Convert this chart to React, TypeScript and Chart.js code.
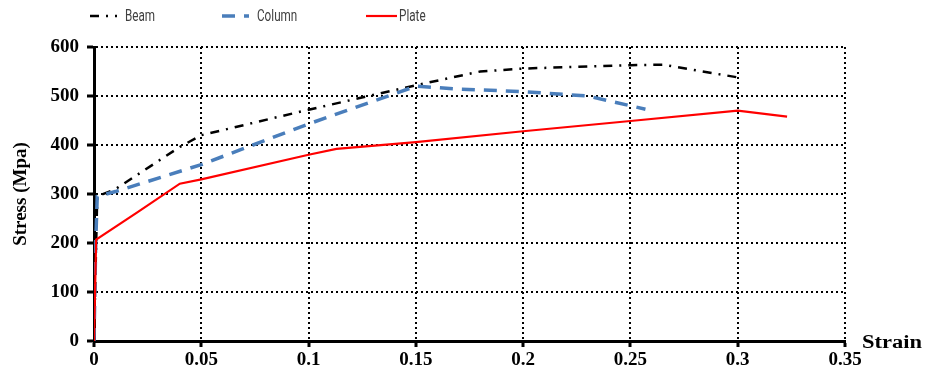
import React, { useEffect, useRef } from "react";
import { Chart, registerables } from "chart.js";

Chart.register(...registerables);

// ---- Data ----
const beamStrain = [0, 0.0015, 0.01, 0.04, 0.05, 0.1, 0.15, 0.18, 0.2, 0.25, 0.265, 0.3];
const beamStress = [0, 295, 310, 396, 420, 472, 522, 550, 556, 563, 564, 538];

const columnStrain = [0, 0.0008, 0.0015, 0.01, 0.05, 0.1, 0.15, 0.17, 0.2, 0.23, 0.257];
const columnStress = [0, 200, 295, 305, 360, 443, 520, 514, 509, 500, 473];

const plateStrain = [0, 0.001, 0.02, 0.04, 0.05, 0.1, 0.113, 0.15, 0.2, 0.25, 0.3, 0.323];
const plateStress = [0, 207, 262, 321, 330, 380, 392, 406, 428, 449, 470, 458];

const xTicks = [0, 0.05, 0.1, 0.15, 0.2, 0.25, 0.3, 0.35];
const yTicks = [0, 100, 200, 300, 400, 500, 600];

const seriesNames = ["Beam", "Column", "Plate"];
const xTitle = "Strain";
const yTitle = "Stress (Mpa)";

const toPoints = (xs: number[], ys: number[]) => xs.map((x, i) => ({ x, y: ys[i] }));

const SERIF = "'Liberation Serif', 'Times New Roman', serif";
const LEGEND_FONT = "'Roboto', 'Liberation Sans', sans-serif";

// Legend layout (sample line start/end and text x)
const legendLayout = [
  { x1: 90, x2: 117, tx: 125 },
  { x1: 222, x2: 249, tx: 257 },
  { x1: 366, x2: 397, tx: 399 },
];

const customLegend = {
  id: "customLegend",
  afterDraw(chart: any) {
    const ctx = chart.ctx;
    const y = 16;
    chart.data.datasets.forEach((ds: any, i: number) => {
      const l = legendLayout[i];
      ctx.save();
      ctx.strokeStyle = ds.borderColor;
      ctx.lineWidth = ds.borderWidth;
      ctx.setLineDash(ds.borderDash || []);
      ctx.beginPath();
      ctx.moveTo(l.x1, y);
      ctx.lineTo(l.x2, y);
      ctx.stroke();
      ctx.setLineDash([]);
      ctx.fillStyle = "#404040";
      ctx.font = `15px ${LEGEND_FONT}`;
      ctx.textBaseline = "middle";
      ctx.textAlign = "left";
      ctx.translate(l.tx, y + 1);
      ctx.scale(0.78, 1.05);
      ctx.fillText(ds.label, 0, 0);
      ctx.restore();
    });
    // x axis title at right end
    const xs = chart.scales.x;
    ctx.save();
    ctx.fillStyle = "#000";
    ctx.font = `bold 18px ${SERIF}`;
    ctx.textBaseline = "middle";
    ctx.textAlign = "left";
    ctx.translate(xs.right + 17, xs.top + 2);
    ctx.scale(1.25, 1);
    ctx.fillText(xTitle, 0, 0);
    ctx.restore();
  },
};

export default function App() {
  const ref = useRef<HTMLCanvasElement | null>(null);

  useEffect(() => {
    document.body.style.margin = "0";
    if (!ref.current) return;
    const chart = new Chart(ref.current, {
      type: "scatter",
      data: {
        datasets: [
          {
            label: seriesNames[0],
            data: toPoints(beamStrain, beamStress),
            showLine: true,
            borderColor: "#000000",
            backgroundColor: "#000000",
            borderWidth: 2.5,
            borderDash: [9, 7, 2, 7],
            pointRadius: 0,
            order: 2,
          },
          {
            label: seriesNames[1],
            data: toPoints(columnStrain, columnStress),
            showLine: true,
            borderColor: "#4A7EBB",
            backgroundColor: "#4A7EBB",
            borderWidth: 3.5,
            borderDash: [13, 9],
            pointRadius: 0,
            order: 1,
          },
          {
            label: seriesNames[2],
            data: toPoints(plateStrain, plateStress),
            showLine: true,
            borderColor: "#FF0000",
            backgroundColor: "#FF0000",
            borderWidth: 2.2,
            pointRadius: 0,
            order: 0,
          },
        ],
      },
      options: {
        responsive: false,
        animation: false,
        layout: { padding: { top: 47, right: 82, left: 0, bottom: 0 } },
        plugins: {
          legend: { display: false },
          tooltip: { enabled: false },
        },
        scales: {
          x: {
            type: "linear",
            min: 0,
            max: 0.35,
            afterBuildTicks: (s: any) => {
              s.ticks = xTicks.map((v) => ({ value: v }));
            },
            afterFit: (s: any) => {
              s.height = 32;
            },
            ticks: {
              color: "#000",
              font: { family: SERIF, size: 19, weight: "bold" },
              padding: 2,
              maxRotation: 0,
              autoSkip: false,
              callback: (v: any) => String(Number(Number(v).toFixed(2))),
            },
            grid: {
              color: "#000",
              lineWidth: 2,
              drawTicks: true,
              tickLength: 6,
              tickWidth: 3,
              tickColor: "#000",
              tickBorderDash: [],
            },
            border: { display: true, color: "#000", width: 3, dash: [2, 3] },
          },
          y: {
            type: "linear",
            min: 0,
            max: 600,
            afterBuildTicks: (s: any) => {
              s.ticks = yTicks.map((v) => ({ value: v }));
            },
            afterFit: (s: any) => {
              s.width = 94;
            },
            title: {
              display: true,
              text: yTitle,
              color: "#000",
              font: { family: SERIF, size: 19, weight: "bold" },
              padding: { top: 10, bottom: 0 },
            },
            ticks: {
              color: "#000",
              font: { family: SERIF, size: 19, weight: "bold" },
              padding: 8,
              autoSkip: false,
            },
            grid: {
              color: "#000",
              lineWidth: 2,
              drawTicks: true,
              tickLength: 7,
              tickWidth: 3,
              tickColor: "#000",
              tickBorderDash: [],
            },
            border: { display: true, color: "#000", width: 3, dash: [2, 3] },
          },
        },
      },
      plugins: [customLegend],
    } as any);
    return () => chart.destroy();
  }, []);

  return (
    <div style={{ width: 927, height: 373, background: "#fff" }}>
      <canvas ref={ref} width={927} height={373} style={{ display: "block" }} />
    </div>
  );
}
